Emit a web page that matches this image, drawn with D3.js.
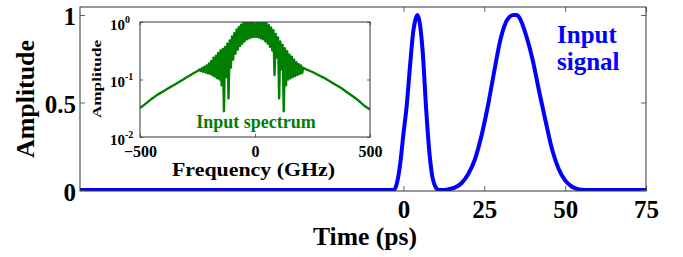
<!DOCTYPE html>
<html>
<head>
<meta charset="utf-8">
<script src="https://cdn.jsdelivr.net/npm/d3@7"></script>
<style>
  html, body { margin: 0; padding: 0; background: #fff; }
  svg { display: block; }
  text { font-family: "Liberation Serif", "Times New Roman", serif; font-weight: bold; }
</style>
</head>
<body>
<svg id="chart" width="683" height="257"></svg>
<script>
// ---- Main plot data (time in ps, amplitude) ----
const timePs = [-100, -3, -2, -1, 0, 1, 2, 3, 4, 4.3, 5, 6, 7, 8, 9, 10, 11, 12,
  14, 16, 18, 20, 22, 24, 26, 28, 30, 32, 34, 35, 36, 38, 40, 42, 44, 46, 48, 50, 52, 54, 56, 75];
const signalAmp = [0, 0, 0.04, 0.15, 0.32, 0.48, 0.70, 0.90, 0.99, 1.0, 0.96, 0.78, 0.47, 0.22, 0.07, 0.015, 0, 0,
  0.005, 0.015, 0.04, 0.09, 0.17, 0.30, 0.47, 0.67, 0.86, 0.97, 1.0, 1.0, 0.98, 0.88, 0.74, 0.56, 0.39, 0.23, 0.12, 0.055, 0.02, 0.005, 0, 0];
const timeTicks = [0, 25, 50, 75];
const ampTicks = [0, 0.5, 1];

// ---- Inset data (frequency in GHz, spectral amplitude) ----
const freqGHz = [
  -500, -475, -450, -425, -400, -375, -350, -325, -300, -275, -250,
  -240, -235, -230, -225, -220, -215, -210, -205, -200, -195, -190, -185, -180, -175, -170, -165,
  -160, -155, -150, -145, -140, -135, -130, -125, -120, -115, -110, -105, -100, -95, -90, -85,
  -80, -75, -70, -65, -60, -55, -50, -45, -40, -35, -30, -25, -20, -15, -10, -5,
  0, 5, 10, 15, 20, 25, 30, 35, 40, 45, 50, 55, 60, 65, 70, 75,
  80, 85, 90, 95, 100, 105, 110, 115, 120, 125, 130, 135, 140, 145, 150, 155,
  160, 165, 170, 175, 180, 185, 190, 195, 200, 205, 210,
  225, 250, 275, 300, 325, 350, 375, 400, 425, 450, 475, 500];
const spectrumAmp = [
  0.032, 0.038, 0.046, 0.054, 0.062, 0.071, 0.081, 0.093, 0.107, 0.123, 0.141,
  0.150, 0.140, 0.158, 0.136, 0.166, 0.132, 0.175, 0.128, 0.190, 0.125, 0.210, 0.118, 0.240, 0.112, 0.260, 0.105,
  0.290, 0.100, 0.320, 0.079, 0.340, 0.028, 0.370, 0.110, 0.420, 0.047, 0.480, 0.160, 0.560, 0.220, 0.640, 0.280,
  0.740, 0.330, 0.820, 0.380, 0.900, 0.420, 0.970, 0.460, 1.000, 0.500, 1.000, 0.520, 0.980, 0.540, 1.000, 0.550,
  0.960, 0.550, 1.000, 0.540, 1.000, 0.520, 0.990, 0.500, 1.000, 0.460, 0.950, 0.420, 0.880, 0.370, 0.800, 0.320,
  0.720, 0.120, 0.620, 0.240, 0.540, 0.047, 0.460, 0.150, 0.400, 0.028, 0.350, 0.079, 0.310, 0.100, 0.270, 0.105,
  0.250, 0.110, 0.220, 0.115, 0.200, 0.120, 0.185, 0.125, 0.175, 0.130, 0.160,
  0.148, 0.135, 0.120, 0.107, 0.093, 0.081, 0.071, 0.060, 0.051, 0.043, 0.035, 0.030];
const freqTicks = [-500, 0, 500];
const specTicks = [0.01, 0.1, 1];
const specTickExp = ["-2", "-1", "0"];

// ---- Layout ----
const svg = d3.select("#chart");
const M = { left: 80, right: 646, top: 7, bottom: 191 };
const x = d3.scaleLinear().domain([-100, 75]).range([M.left, M.right]);
const y = d3.scaleLinear().domain([-0.0057, 1.0457]).range([M.bottom, M.top]);

svg.append("defs").append("clipPath").attr("id", "mainclip")
  .append("rect").attr("x", M.left).attr("y", M.top)
  .attr("width", M.right - M.left).attr("height", M.bottom - M.top);

// signal line
const sig = timePs.map((t, i) => [t, signalAmp[i]]);
svg.append("path").datum(sig)
  .attr("clip-path", "url(#mainclip)")
  .attr("fill", "none").attr("stroke", "#0000ff").attr("stroke-width", 4)
  .attr("stroke-linejoin", "round")
  .attr("d", d3.line().x(d => x(d[0])).y(d => y(d[1])).curve(d3.curveMonotoneX));

// axes (ticks inside)
const gB = svg.append("g").attr("transform", `translate(0,${M.bottom})`)
  .call(d3.axisBottom(x).tickValues(timeTicks).tickSize(-5).tickPadding(9).tickFormat(d3.format("")));
const gT = svg.append("g").attr("transform", `translate(0,${M.top})`)
  .call(d3.axisTop(x).tickValues(timeTicks).tickSize(-5).tickFormat(""));
const gL = svg.append("g").attr("transform", `translate(${M.left},0)`)
  .call(d3.axisLeft(y).tickValues(ampTicks).tickSize(-5).tickPadding(4).tickFormat(d3.format("")));
const gR = svg.append("g").attr("transform", `translate(${M.right},0)`)
  .call(d3.axisRight(y).tickValues(ampTicks).tickSize(-5).tickFormat(""));
[gB, gT, gL, gR].forEach(g => {
  g.select(".domain").remove();
  g.selectAll(".tick line").attr("stroke", "#666");
  g.selectAll("text").attr("fill", "#000").attr("font-size", 25)
    .attr("font-family", "Liberation Serif, Times New Roman, serif").attr("font-weight", "bold");
});
gL.selectAll("text").attr("dy", "0.4em");

svg.append("rect").attr("x", M.left).attr("y", M.top)
  .attr("width", M.right - M.left).attr("height", M.bottom - M.top)
  .attr("fill", "none").attr("stroke", "#333").attr("stroke-width", 1);

// main labels
svg.append("text").attr("x", 365).attr("y", 245).attr("text-anchor", "middle")
  .attr("font-size", 25).attr("textLength", 104).attr("lengthAdjust", "spacingAndGlyphs").text("Time (ps)");
svg.append("text").attr("transform", "translate(34,99) rotate(-90)")
  .attr("text-anchor", "middle").attr("font-size", 25)
  .attr("textLength", 118).attr("lengthAdjust", "spacingAndGlyphs").text("Amplitude");
const lab = svg.append("text").attr("x", 557).attr("y", 43).attr("font-size", 25).attr("fill", "#0000ff");
lab.append("tspan").attr("x", 557).attr("y", 43).text("Input");
lab.append("tspan").attr("x", 557).attr("y", 70).text("signal");

// ---- Inset ----
const I = { left: 140, right: 370, top: 22, bottom: 137 };
const xi = d3.scaleLinear().domain([-500, 500]).range([I.left, I.right]);
const yi = d3.scaleLog().domain([0.01, 1]).range([I.bottom, I.top]);

svg.append("rect").attr("x", I.left).attr("y", I.top)
  .attr("width", I.right - I.left).attr("height", I.bottom - I.top).attr("fill", "#fff");

svg.append("defs").append("clipPath").attr("id", "insetclip")
  .append("rect").attr("x", I.left).attr("y", I.top)
  .attr("width", I.right - I.left).attr("height", I.bottom - I.top);

const spec = freqGHz.map((f, i) => [f, spectrumAmp[i]]);
svg.append("path").datum(spec)
  .attr("clip-path", "url(#insetclip)")
  .attr("fill", "none").attr("stroke", "#008000").attr("stroke-width", 2.4)
  .attr("stroke-linejoin", "round")
  .attr("d", d3.line().x(d => xi(d[0])).y(d => yi(d[1])));

const iB = svg.append("g").attr("transform", `translate(0,${I.bottom})`)
  .call(d3.axisBottom(xi).tickValues(freqTicks).tickSize(-3).tickPadding(9).tickFormat(d3.format("")));
const iT = svg.append("g").attr("transform", `translate(0,${I.top})`)
  .call(d3.axisTop(xi).tickValues(freqTicks).tickSize(-3).tickFormat(""));
const iL = svg.append("g").attr("transform", `translate(${I.left},0)`)
  .call(d3.axisLeft(yi).tickValues(specTicks).tickSize(-3).tickPadding(30));
const iR = svg.append("g").attr("transform", `translate(${I.right},0)`)
  .call(d3.axisRight(yi).tickValues(specTicks).tickSize(-3).tickFormat(""));
[iB, iT, iL, iR].forEach(g => {
  g.select(".domain").remove();
  g.selectAll(".tick line").attr("stroke", "#666");
  g.selectAll("text").attr("fill", "#000")
    .attr("font-family", "Liberation Serif, Times New Roman, serif").attr("font-weight", "bold");
});
iB.selectAll("text").attr("font-size", 16);
iL.selectAll(".tick text").each(function(d, i) {
  const t = d3.select(this);
  t.text("").attr("text-anchor", "start").attr("x", -30).attr("dy", null).attr("y", 7)
    .attr("font-size", 15);
  t.append("tspan").text("10");
  t.append("tspan").attr("font-size", 10).attr("dy", -7).text(specTickExp[i]);
});

svg.append("rect").attr("x", I.left).attr("y", I.top)
  .attr("width", I.right - I.left).attr("height", I.bottom - I.top)
  .attr("fill", "none").attr("stroke", "#333").attr("stroke-width", 1);

svg.append("text").attr("x", 253.5).attr("y", 176).attr("text-anchor", "middle")
  .attr("font-size", 19).attr("textLength", 163).attr("lengthAdjust", "spacingAndGlyphs")
  .text("Frequency (GHz)");
svg.append("text").attr("transform", "translate(101,79) rotate(-90)")
  .attr("text-anchor", "middle").attr("font-size", 13)
  .attr("textLength", 78).attr("lengthAdjust", "spacingAndGlyphs").text("Amplitude");
svg.append("text").attr("x", 256).attr("y", 128).attr("text-anchor", "middle")
  .attr("font-size", 18).attr("fill", "#008000").text("Input spectrum");
</script>
</body>
</html>
